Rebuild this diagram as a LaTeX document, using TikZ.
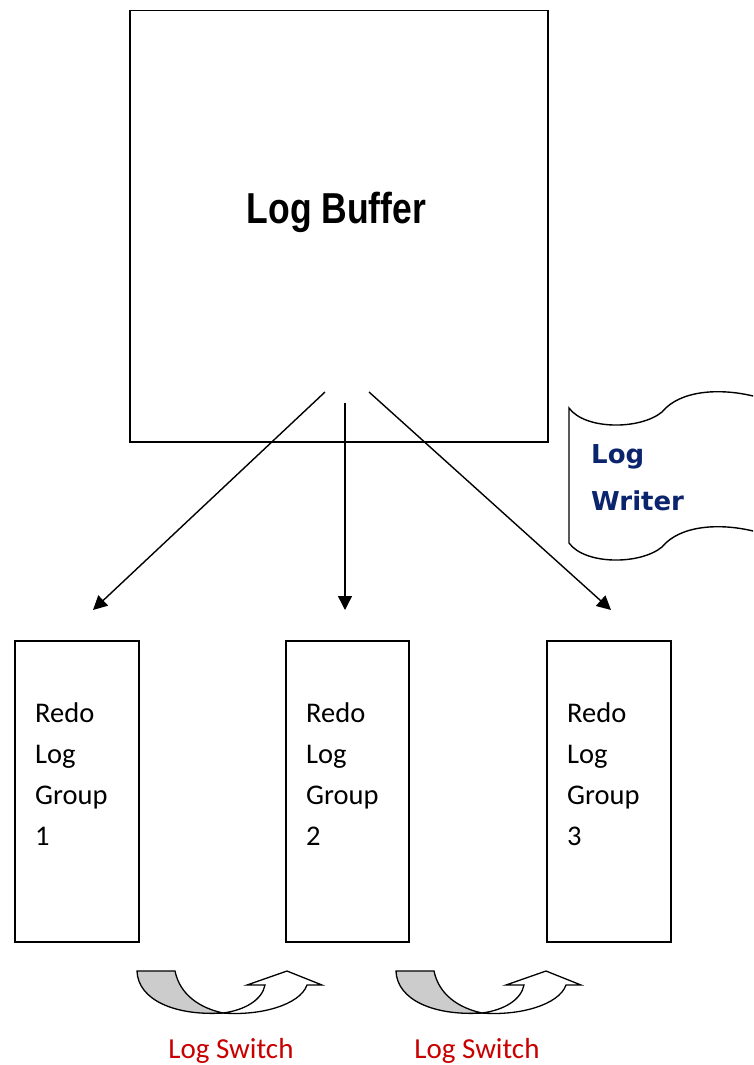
\documentclass[tikz,border=0pt]{standalone}
\usepackage{fontspec}
\usetikzlibrary{arrows.meta}
\newfontfamily\lbfont[FakeStretch=0.82]{Liberation Sans}
\newfontfamily\cfont{Carlito}
\newfontfamily\dfont{DejaVu Sans}
\definecolor{lwblue}{RGB}{10,36,110}
\definecolor{lsred}{RGB}{200,0,0}
\definecolor{shadegray}{RGB}{204,204,204}
\tikzset{
  box/.style={draw, line width=1.5pt, inner sep=0pt, fill=white},
  redotext/.style={inner sep=0pt, align=left, font=\cfont\fontsize{28.5}{41}\selectfont},
  conn/.style={line width=1.4pt, -{Triangle[length=14pt,width=14pt]}},
  swtext/.style={inner sep=0pt, text=lsred, font=\cfont\fontsize{29}{34}\selectfont},
  curvearrow/.style={line width=1.3pt, line join=miter},
}
\begin{document}
\begin{tikzpicture}[x=1pt,y=-1pt]
\useasboundingbox (0,0) rectangle (753,1065);
\fill[white] (0,0) rectangle (753,1065);

% Log Buffer
\node[box, minimum width=418pt, minimum height=431pt, anchor=north west] (buf) at (129,10) {};
\node[inner sep=0pt, anchor=base west, font=\lbfont\bfseries\fontsize{43.3}{50}\selectfont] (buftext) at (246.5,223) {Log Buffer};

% Redo log groups
\node[box, minimum width=124pt, minimum height=301pt, anchor=north west] (g1) at (14,640) {};
\node[box, minimum width=123pt, minimum height=301pt, anchor=north west] (g2) at (285,640) {};
\node[box, minimum width=124pt, minimum height=301pt, anchor=north west] (g3) at (546,640) {};
\node[redotext, anchor=north west] (t1) at (35,703) {Redo\\Log\\Group\\1};
\node[redotext, anchor=north west] (t2) at (306,703) {Redo\\Log\\Group\\2};
\node[redotext, anchor=north west] (t3) at (567,703) {Redo\\Log\\Group\\3};

% connectors
\coordinate (s1) at (325,392);
\coordinate (s2) at (345,403);
\coordinate (s3) at (369,392);
\coordinate (e1) at (93,610);
\coordinate (e2) at (345,610);
\coordinate (e3) at (611,610);
\draw[conn] (s1) -- (e1);
\draw[conn] (s2) -- (e2);
\draw[conn] (s3) -- (e3);

% Log Writer banner
\begin{scope}
\clip (0,0) rectangle (753,1065);
\draw[line width=1.4pt, fill=white]
  (569,408) .. controls (585,430) and (640,430) .. (662,412)
  .. controls (680,390) and (720,388) .. (753,396)
  -- (780,404) -- (780,539) -- (753,531)
  .. controls (720,523) and (680,525) .. (662,547)
  .. controls (640,565) and (585,565) .. (569,543) -- cycle;
\end{scope}
\node[inner sep=0pt, align=left, anchor=north west, text=lwblue,
      font=\dfont\bfseries\fontsize{26}{47}\selectfont] (lw) at (591,444) {Log\\Writer};

% Log switch arrows
\foreach \dx in {0,259} {
  \begin{scope}[xshift=\dx pt]
    \draw[curvearrow, fill=shadegray]
      (137,971) -- (175,971)
      .. controls (180,995) and (200,1008) .. (223,1013)
      .. controls (175,1016) and (138,1000) .. (137,971) -- cycle;
    \draw[curvearrow, fill=white]
      (223,1013) .. controls (260,1016) and (300,1005) .. (307,985)
      -- (322,985) -- (287,971) -- (247,985) -- (265,985)
      .. controls (262,1000) and (245,1010) .. (223,1013) -- cycle;
  \end{scope}
}
\node[swtext, anchor=base] (ls1) at (231,1058) {Log Switch};
\node[swtext, anchor=base] (ls2) at (477,1058) {Log Switch};
\end{tikzpicture}
\end{document}
